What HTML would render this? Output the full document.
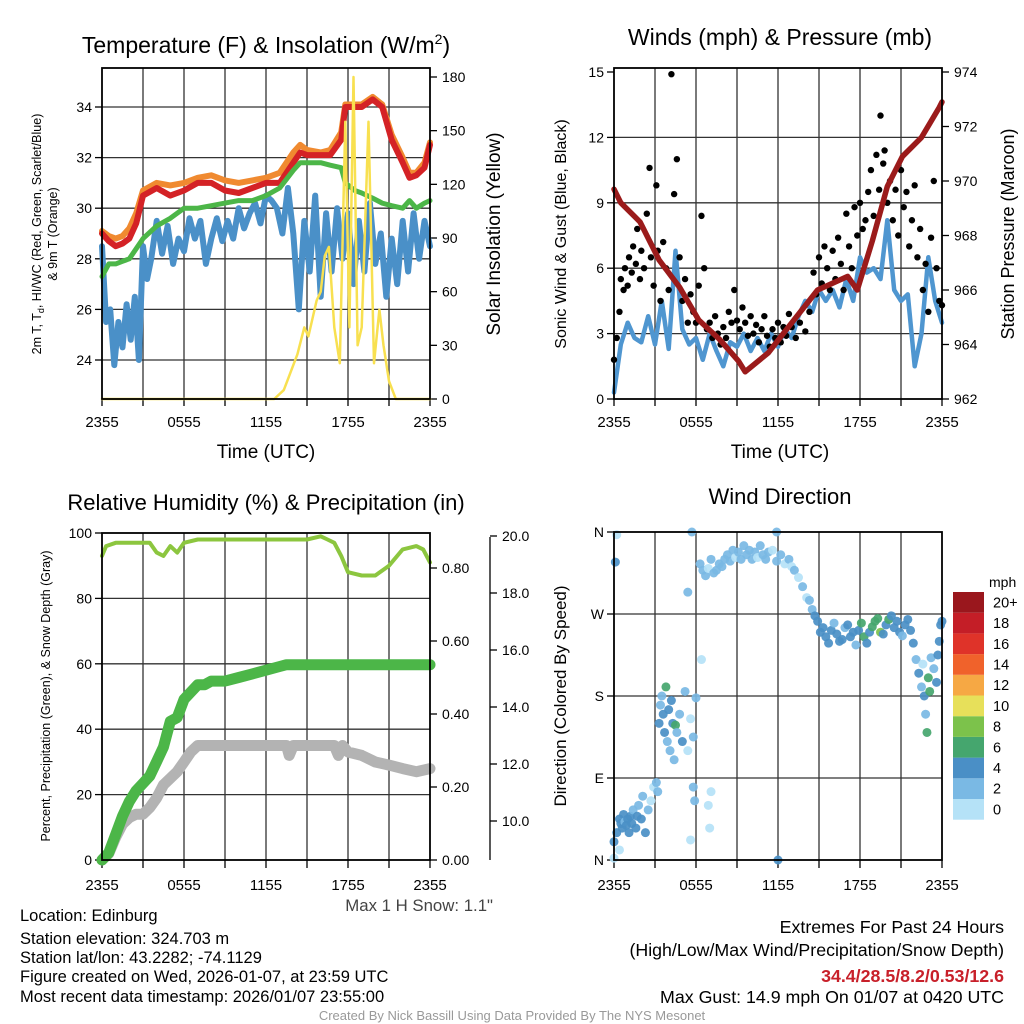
<!DOCTYPE html>
<html><head><meta charset="utf-8">
<style>
html,body{margin:0;padding:0;background:#fff}
svg{display:block}
text{font-family:"Liberation Sans",Arial,sans-serif;fill:#000}
</style></head>
<body>
<svg id="svg" xmlns="http://www.w3.org/2000/svg" width="1024" height="1024" viewBox="0 0 1024 1024">
<g id="g1"></g>
<g id="g2"></g>
<g id="g3"></g>
<g id="g4"></g>
<text x="266" y="53" font-size="23" text-anchor="middle">Temperature (F) &amp; Insolation (W/m<tspan dy="-9" font-size="14">2</tspan><tspan dy="9">)</tspan></text>
<text x="780" y="45" font-size="23" text-anchor="middle">Winds (mph) &amp; Pressure (mb)</text>
<text x="266" y="510" font-size="22" text-anchor="middle">Relative Humidity (%) &amp; Precipitation (in)</text>
<text x="780" y="504" font-size="22" text-anchor="middle">Wind Direction</text>
<text x="266" y="458" font-size="19" text-anchor="middle">Time (UTC)</text>
<text x="780" y="458" font-size="19" text-anchor="middle">Time (UTC)</text>
<text transform="translate(41,234) rotate(-90)" font-size="12.5" text-anchor="middle">2m T, T<tspan dy="3" font-size="9">d</tspan><tspan dy="-3">, HI/WC (Red, Green, Scarlet/Blue)</tspan></text>
<text transform="translate(57,234) rotate(-90)" font-size="12.5" text-anchor="middle">&amp; 9m T (Orange)</text>
<text transform="translate(500,234) rotate(-90)" font-size="19" text-anchor="middle">Solar Insolation (Yellow)</text>
<text transform="translate(566,234) rotate(-90)" font-size="16" text-anchor="middle">Sonic Wind &amp; Gust (Blue, Black)</text>
<text transform="translate(1014,234) rotate(-90)" font-size="18" text-anchor="middle">Station Pressure (Maroon)</text>
<text transform="translate(50,696) rotate(-90)" font-size="12.5" text-anchor="middle">Percent, Precipitation (Green), &amp; Snow Depth (Gray)</text>
<text transform="translate(566,696) rotate(-90)" font-size="17" text-anchor="middle">Direction (Colored By Speed)</text>
<text x="493" y="911" font-size="16.8" text-anchor="end" style="fill:#444">Max 1 H Snow: 1.1"</text>
<g>
<text x="20" y="921" font-size="16.5">Location: Edinburg</text>
<text x="20" y="944" font-size="16.5">Station elevation: 324.703 m</text>
<text x="20" y="963" font-size="16.5">Station lat/lon: 43.2282; -74.1129</text>
<text x="20" y="982" font-size="16.5">Figure created on Wed, 2026-01-07, at 23:59 UTC</text>
<text x="20" y="1002" font-size="16.5">Most recent data timestamp: 2026/01/07 23:55:00</text>
</g>
<text x="1004" y="933" font-size="17.8" text-anchor="end">Extremes For Past 24 Hours</text>
<text x="1004" y="956" font-size="17.8" text-anchor="end">(High/Low/Max Wind/Precipitation/Snow Depth)</text>
<text x="1004" y="982" font-size="17.8" font-weight="bold" text-anchor="end" style="fill:#c8202a">34.4/28.5/8.2/0.53/12.6</text>
<text x="1004" y="1003" font-size="17.8" text-anchor="end">Max Gust: 14.9 mph On 01/07 at 0420 UTC</text>
<text x="512" y="1020" font-size="13" text-anchor="middle" style="fill:#999">Created By Nick Bassill Using Data Provided By The NYS Mesonet</text>
</svg>
<script>
// ---------- data ----------
var xTickLabels = ["2355","0555","1155","1755","2355"];
var tempHours = [0,0.5,1,1.5,2,2.5,3,4,5,6,7,8,9,10,11,12,13,14,14.5,15,16,16.7,17.5,17.8,18.5,19,19.8,20.5,21.2,22,22.5,23,23.6,24];
var tempRed   = [29.0,28.7,28.5,28.6,28.8,29.4,30.5,30.8,30.5,30.7,31.0,31.0,30.7,30.6,30.8,31.0,31.0,31.8,32.2,32.1,32.1,32.1,32.7,34.0,34.0,34.0,34.3,34.0,32.7,31.8,31.2,31.3,31.6,32.5];
var tempOrange= [29.1,28.9,28.8,28.9,29.2,29.8,30.7,31.0,30.9,31.0,31.2,31.3,31.1,31.0,31.1,31.2,31.4,32.2,32.5,32.3,32.2,32.3,33.0,34.1,34.1,34.1,34.4,34.1,32.9,32.0,31.4,31.4,31.8,32.6];
var tempGreen = [27.3,27.8,27.8,27.9,28.0,28.4,28.8,29.3,29.6,30.0,30.0,30.1,30.2,30.3,30.3,30.5,30.8,31.5,31.8,31.8,31.8,31.7,31.6,31.0,30.7,30.6,30.4,30.2,30.1,30.0,30.3,30.0,30.2,30.3];
var dewHours = [0,0.3,0.6,0.9,1.2,1.5,1.8,2.1,2.4,2.7,3,3.3,3.6,4,4.4,4.8,5.2,5.6,6,6.4,6.8,7.2,7.6,8,8.4,8.8,9.2,9.6,10,10.4,10.8,11.2,11.6,12,12.4,12.8,13.2,13.6,14,14.4,14.8,15.2,15.6,16,16.4,16.8,17.2,17.6,18,18.4,18.8,19.2,19.6,20,20.4,20.8,21.2,21.6,22,22.4,22.8,23.2,23.6,24];
var dewBlue  = [28.5,25.5,26.0,23.8,25.5,24.5,26.2,24.8,26.5,24.0,28.5,27.2,28.0,29.5,28.2,29.3,27.8,28.8,28.3,29.6,28.8,29.5,27.8,28.8,29.6,28.7,29.5,28.8,30.0,29.2,29.8,30.2,29.4,30.5,30.3,30.0,29.0,30.8,29.0,26.0,29.5,27.5,30.5,26.5,29.8,27.5,30.0,28.0,29.8,27.0,29.5,27.5,30.2,27.8,29.0,26.5,28.8,27.0,29.5,27.5,29.8,28.0,29.5,28.5];
var solarHours = [0,12.6,13.3,13.8,14.3,14.8,15.1,15.4,15.7,16.0,16.3,16.6,17.0,17.4,17.8,18.1,18.4,18.7,19.0,19.5,19.9,20.3,20.6,21.0,21.5,24];
var solarVals  = [0,0,5,15,25,40,35,45,55,60,80,85,40,20,155,40,180,30,40,155,20,50,30,10,0,0];

var presHours = [0,0.5,1.9,3.3,4.8,6.2,7.7,9.1,9.6,11.3,12.7,14.9,17.1,17.8,18.9,20,21.1,22.5,23.8,24];
var presVals  = [969.7,969.2,968.5,967.1,966.1,964.9,964.2,963.4,963.0,963.7,964.6,966.0,966.5,966.0,967.8,969.8,970.9,971.6,972.7,972.9];
var windVals = [0.3,2.5,3.5,2.8,2.6,3.8,2.5,4.5,2.3,6.8,3.2,2.5,2.8,1.8,3.0,2.2,1.5,2.6,2.4,3.0,2.2,2.8,2.2,3.0,2.4,3.2,2.8,3.8,4.5,4.0,5.0,4.5,5.0,4.2,5.5,4.5,6.5,5.8,6.0,5.5,8.2,5.0,4.5,4.8,1.5,3.0,6.5,4.5,3.5];
var gustHours = [0,0.2,0.4,0.5,0.7,0.8,1,1.1,1.3,1.4,1.6,1.7,1.9,2,2.2,2.4,2.6,2.7,2.9,3.1,3.2,3.4,3.6,3.8,4,4.2,4.4,4.6,4.8,5,5.2,5.4,5.6,5.8,6,6.2,6.4,6.6,6.8,7,7.2,7.4,7.6,7.8,8,8.2,8.4,8.6,8.8,9,9.2,9.4,9.6,9.8,10,10.2,10.4,10.6,10.8,11,11.2,11.4,11.6,11.8,12,12.2,12.4,12.6,12.8,13,13.3,13.6,14,14.3,14.6,14.8,15,15.2,15.4,15.6,15.8,16,16.2,16.4,16.6,16.8,17,17.2,17.4,17.6,17.8,18,18.2,18.4,18.6,18.8,19,19.2,19.4,19.5,19.7,19.8,20,20.2,20.4,20.6,20.8,21,21.2,21.4,21.6,21.8,22,22.2,22.4,22.6,22.8,23,23.2,23.4,23.6,23.8,24];
var gustVals  = [1.8,2.8,4,5.5,5,6,5.2,6.5,5.8,7,6.2,7.8,5.5,6.8,6,8.5,10.6,6.5,5.2,9.8,6.8,4.5,7.2,6,5,14.9,9.4,11,6.5,4.5,5.5,3.5,4.8,4,3.5,5.2,8.4,6,3.2,3.5,2.8,3.8,3,2.5,3.3,2.8,4,3.5,5,3.6,3.2,4.2,3.5,2.9,3.8,3,3.4,2.6,3.2,3.8,2.9,2.4,3.2,2.8,3.5,2.6,3.3,2.9,3.9,3.3,2.8,3.5,3.1,4,5.8,4.8,6.5,5.3,7,6,5,6.8,5.5,7.4,6.2,5,8.5,7,6,8.8,7.5,9,7.8,8.2,9.5,10.5,8.4,11.2,9.6,13,10.8,11.4,9,10,8.2,9.6,7.5,10.5,8.8,9.5,7,8.2,9.8,6.5,7.8,5,6.2,4,7.4,10,6,4.5,4.3];

var rhHours = [0,0.3,1,2,3,3.5,4,4.5,5,5.5,6,7,9,11,13,15,16,16.5,17,17.5,18,19,20,21,22,23,23.5,24];
var rhVals  = [93,96,97,97,97,97,94,93,96,94,97,98,98,98,98,98,99,98,97,93,88,87,87,90,95,96,95,91];
var precipHours = [0,0.5,1,1.5,2,2.5,3,3.5,4,4.5,5,5.5,6,6.5,7,7.5,8,9,10,11,12,13,13.5,14,24];
var precipVals  = [0,0.02,0.07,0.12,0.16,0.19,0.21,0.23,0.27,0.31,0.38,0.39,0.44,0.46,0.48,0.48,0.49,0.49,0.50,0.51,0.52,0.53,0.535,0.535,0.535];
var snowHours = [0,0.5,1,1.5,2,2.5,3,3.5,4,4.5,5,5.5,6,6.5,7,13.5,13.7,14,17,17.3,17.6,18,19,20,21,22,23,24];
var snowVals  = [8.63,8.86,9.43,9.89,10.12,10.24,10.24,10.47,10.81,11.27,11.5,11.73,12.07,12.42,12.65,12.65,12.3,12.65,12.65,12.3,12.65,12.42,12.3,12.07,11.96,11.84,11.73,11.84];

var dirHours = [0,0.2,0.4,0.5,0.6,0.7,0.8,0.9,1,1.1,1.2,1.3,1.4,1.6,1.7,1.8,2,2.1,2.3,2.5,2.7,2.9,3.1,3.2,5.6,7,6.9,7.1,5.8,5.9,0.2,0.1,3.3,3.4,3.5,3.6,3.7,3.8,3.9,4,4.1,4.2,4.3,4.4,4.5,4.6,4.8,5,5.2,5.4,5.6,5.8,6,6.4,5.4,5.7,6.3,6.5,6.7,6.9,7.1,7.3,7.5,7.7,7.9,8.1,8.3,8.5,8.7,8.9,9.1,9.3,9.5,9.7,9.9,10.1,10.3,10.5,10.7,10.9,11.1,11.3,11.6,11.9,12.2,12.5,12.8,13,13.2,13.5,13.8,14.1,11.9,12,0,0.4,14.3,14.5,14.7,14.9,15.1,15.3,15.5,15.7,15.9,16.1,16.3,16.5,16.7,16.9,17.1,17.3,17.5,17.7,17.9,18.1,18.3,18.5,18.7,18.9,19.1,19.3,19.5,19.7,19.9,20.1,20.3,20.5,20.7,20.9,21.1,21.3,21.5,21.7,21.9,22.1,22.3,22.5,22.6,22.7,22.8,22.9,23,23.1,23.2,23.4,23.6,23.7,23.8,23.9,24];
var dirDegs  = [20,30,45,40,35,50,42,38,45,30,48,40,55,35,48,60,45,70,30,55,65,80,85,75,22,35,60,75,80,65,357,327,150,170,180,160,140,190,130,165,120,175,150,110,148,140,160,130,185,120,155,135,178,220,294,360,325,318,312,320,330,315,318,325,322,330,335,328,340,332,338,330,345,335,340,330,338,332,345,335,330,338,340,328,335,325,330,322,318,310,300,288,360,0,2,11,285,275,268,262,250,255,245,238,252,260,248,240,242,255,258,245,250,236,252,260,245,238,250,256,262,265,250,248,258,264,268,255,262,250,246,258,264,252,238,220,205,190,215,180,160,140,200,185,222,210,195,225,240,258,262,270];
var dirSpeeds= [4,4,5,4,4,5,3,4,5,4,5,4,3,5,4,3,5,3,4,3,1,1,3,2,1,1,1,1,2,3,1,4,4,2,3,4,5,6,3,4,3,4,5,2,6,3,2,4,3,1,1,2,3,1,3,3,2,3,2,1,3,2,3,2,3,2,3,2,3,1,2,3,2,3,2,3,2,1,3,2,3,2,1,3,2,1,3,1,2,1,2,1,3,4,1,1,2,3,4,4,5,4,5,4,5,3,4,5,4,3,5,4,5,3,4,7,6,4,5,6,7,7,8,5,4,6,5,5,4,5,3,5,4,5,5,3,5,2,1,5,3,7,6,6,3,2,4,5,4,5,5];

var speedColors = ["#b5e2f7","#7ab9e4","#4a8fc6","#45a66e","#7cc24b","#e7e05a","#f6a844","#f0622b","#df3329","#c41e27","#9a171d"];
var speedLabels = ["0","2","4","6","8","10","12","14","16","18","20+"];
var tempTicks = [24,26,28,30,32,34];
var solarTicks = [0,30,60,90,120,150,180];
var windTicks = [0,3,6,9,12,15];
var presTicks = [962,964,966,968,970,972,974];
var rhTicks = [0,20,40,60,80,100];
var precipTicks = ["0.00","0.20","0.40","0.60","0.80"];
var snowTicks = ["10.0","12.0","14.0","16.0","18.0","20.0"];
var dirTicks = ["N","E","S","W","N"];

// ---------- helpers ----------
var NS="http://www.w3.org/2000/svg";
function mk(tag,parent){var e=document.createElementNS(NS,tag);parent.appendChild(e);return e;}
function sa(e,k,v){e.setAttribute(k,v);}
function lin(d0,d1,r0,r1){return function(v){return r0+(v-d0)/(d1-d0)*(r1-r0);};}
function path(xs,ys,fx,fy){var s="";for(var i=0;i<xs.length;i++){s+=(i?"L":"M")+fx(xs[i]).toFixed(1)+","+fy(ys[i]).toFixed(1);}return s;}
function addLine(g,x1,y1,x2,y2,col,w){var l=mk("line",g);sa(l,"x1",x1);sa(l,"y1",y1);sa(l,"x2",x2);sa(l,"y2",y2);sa(l,"stroke",col);sa(l,"stroke-width",w);return l;}
function addText(g,x,y,t,size,anchor){var e=mk("text",g);sa(e,"x",x);sa(e,"y",y);sa(e,"font-size",size);sa(e,"text-anchor",anchor);e.textContent=t;return e;}

var X0=102,X1=430,XR0=614,XR1=942;
function frame(g,x0,x1,y0,y1,labOff,tickLen,gridYs){
  for(var h=3;h<24;h+=3){var gx=lin(0,24,x0,x1)(h);var l=addLine(g,gx,y0,gx,y1,"#333",1.3);

}
  gridYs.forEach(function(yy){var l=addLine(g,x0,yy,x1,yy,"#333",1.3);

});
  for(var h2=0;h2<=24;h2+=3){var tx=lin(0,24,x0,x1)(h2);var t=addLine(g,tx,y1,tx,y1+tickLen,"#000",1.3);

}
  xTickLabels.forEach(function(s,i){var tx=lin(0,24,x0,x1)(i*6);var tl=addText(g,tx,y1+labOff,s,15,"middle");

});
}
function box(g,x0,x1,y0,y1){var r=mk("rect",g);sa(r,"x",x0);sa(r,"y",y0);sa(r,"width",x1-x0);sa(r,"height",y1-y0);sa(r,"fill","none");sa(r,"stroke","#000");sa(r,"stroke-width",1.8);

}
function yAxis(g,x,vals,fy,labels,side,size){
  vals.forEach(function(v,i){var y=fy(v);var t=addLine(g,x,y,x+(side<0?-7:7),y,"#000",1.3);


var tl=addText(g,x+(side<0?-10:12),y+5,labels[i],size,side<0?"end":"start");

});
}
function series(g,xs,ys,fx,fy,col,w,name){var p=mk("path",g);sa(p,"d",path(xs,ys,fx,fy));sa(p,"fill","none");sa(p,"stroke",col);sa(p,"stroke-width",w);sa(p,"stroke-linejoin","round");sa(p,"stroke-linecap","round");

return p;}

// ---------- panel 1 ----------
(function(){
var g=document.getElementById("g1");var y0=68,y1=399;
var fx=lin(0,24,X0,X1), fy=lin(34,24,107,360), fs=lin(0,180,399,77);
frame(g,X0,X1,y0,y1,28,7,tempTicks.map(fy));
yAxis(g,X0,tempTicks,fy,tempTicks.map(String),-1,14);
yAxis(g,X1,solarTicks,fs,solarTicks.map(String),1,14);
series(g,dewHours,dewBlue,fx,fy,"#4a90c8",6,"dewpoint-line");
series(g,tempHours,tempOrange,fx,fy,"#f08a30",6,"temp-9m-line");
series(g,tempHours,tempRed,fx,fy,"#d42226",6,"temp-2m-line");
series(g,tempHours,tempGreen,fx,fy,"#4cb648",5,"heat-index-line");
series(g,solarHours,solarVals,fx,fs,"#f8e050",2.5,"insolation-line");
box(g,X0,X1,y0,y1);
})();
// ---------- panel 2 ----------
(function(){
var g=document.getElementById("g2");var y0=68,y1=399;
var fx=lin(0,24,XR0,XR1), fw=lin(0,15,399,72), fp=lin(962,974,399,72);
frame(g,XR0,XR1,y0,y1,28,7,[3,6,9,12].map(fw));
yAxis(g,XR0,windTicks,fw,windTicks.map(String),-1,14);
yAxis(g,XR1,presTicks,fp,presTicks.map(String),1,14);
var wh=windVals.map(function(v,i){return i*24/(windVals.length-1);});
series(g,wh,windVals,fx,fw,"#4f96d0",4.5,"wind-speed-line");
gustHours.forEach(function(h,i){var c=mk("circle",g);sa(c,"cx",fx(h));sa(c,"cy",fw(gustVals[i]));sa(c,"r",3.2);sa(c,"fill","#000");

});
series(g,presHours,presVals,fx,fp,"#9b1b1b",5.5,"pressure-line");
box(g,XR0,XR1,y0,y1);
})();
// ---------- panel 3 ----------
(function(){
var g=document.getElementById("g3");var y0=533,y1=860;
var fx=lin(0,24,X0,X1), fr=lin(0,100,860,533), fpr=lin(0,0.2,860,787), fsn=lin(10,12,821,764);
frame(g,X0,X1,y0,y1,30,8,[20,40,60,80].map(fr));
yAxis(g,X0,rhTicks,fr,rhTicks.map(String),-1,14);
yAxis(g,X1,precipTicks.map(Number),fpr,precipTicks,1,14);
var ax=addLine(g,490,537,490,860,"#000",1.3);


yAxis(g,490,snowTicks.map(Number),fsn,snowTicks,1,14);
series(g,snowHours,snowVals,fx,fsn,"#b3b3b3",11,"snow-depth-line");
series(g,precipHours,precipVals,fx,fpr,"#4cb648",11,"precip-line");
series(g,rhHours,rhVals,fx,fr,"#8cc63f",4,"rh-line");
box(g,X0,X1,y0,y1);
})();
// ---------- panel 4 ----------
(function(){
var g=document.getElementById("g4");var y0=532,y1=860;
var fx=lin(0,24,XR0,XR1), fd=lin(0,360,860,532);
frame(g,XR0,XR1,y0,y1,30,8,[90,180,270].map(fd));
yAxis(g,XR0,[0,90,180,270,360],fd,dirTicks,-1,14);
dirHours.forEach(function(h,i){var c=mk("circle",g);var b=Math.min(10,Math.floor(dirSpeeds[i]/2));sa(c,"cx",fx(h));sa(c,"cy",fd(dirDegs[i]));sa(c,"r",4.5);sa(c,"fill",speedColors[b]);sa(c,"fill-opacity",0.92);

});
box(g,XR0,XR1,y0,y1);
var lt=addText(g,989,587,"mph",14,"start");


var bh=20.7;
speedColors.forEach(function(col,i){var top=592+(10-i)*bh;var r=mk("rect",g);sa(r,"x",953);sa(r,"y",top);sa(r,"width",31);sa(r,"height",bh);sa(r,"fill",col);


var t=addText(g,993,top+bh/2+5,speedLabels[i],14.5,"start");

});
})();
</script>
</body></html>
